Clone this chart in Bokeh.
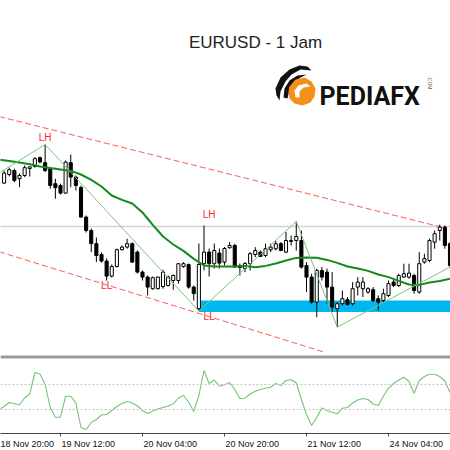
import numpy as np
from bokeh.plotting import figure
from bokeh.models import Range1d, FixedTicker, Label, Span, BoxAnnotation, PolyAnnotation, ColumnDataSource
from bokeh.core.properties import value
from bokeh.embed import file_html
from bokeh.resources import INLINE

# ---------------- data (EURUSD H1) ----------------
bars = list(range(-11, 77))  # bar index, 0 = 19 Nov 12:00
open_ = [1.16217, 1.16260, 1.16280, 1.16239, 1.16255, 1.16290, 1.16300, 1.16344, 1.16319, 1.16289,
         1.16214, 1.16205, 1.16167, 1.16319, 1.16247, 1.16195, 1.16047, 1.15980, 1.15914, 1.15860,
         1.15827, 1.15752, 1.15800, 1.15884, 1.15897, 1.15914, 1.15872, 1.15772, 1.15747, 1.15689,
         1.15689, 1.15700, 1.15705, 1.15730, 1.15730, 1.15800, 1.15810, 1.15697, 1.15589, 1.15814,
         1.15872, 1.15814, 1.15867, 1.15822, 1.15894, 1.15905, 1.15805, 1.15790, 1.15814, 1.15860,
         1.15872, 1.15855, 1.15884, 1.15889, 1.15914, 1.15872, 1.15925, 1.15930, 1.15930, 1.15805,
         1.15747, 1.15622, 1.15780, 1.15772, 1.15697, 1.15589, 1.15614, 1.15634, 1.15614, 1.15697,
         1.15689, 1.15672, 1.15684, 1.15639, 1.15630, 1.15655, 1.15722, 1.15705, 1.15747, 1.15747,
         1.15755, 1.15672, 1.15822, 1.15830, 1.15922, 1.15980, 1.15997, 1.15914]
high = [1.16280, 1.16294, 1.16289, 1.16264, 1.16305, 1.16300, 1.16347, 1.16350, 1.16410, 1.16297,
        1.16239, 1.16214, 1.16330, 1.16360, 1.16255, 1.16205, 1.16055, 1.15990, 1.15945, 1.15870,
        1.15840, 1.15810, 1.15890, 1.15905, 1.15939, 1.15920, 1.15880, 1.15780, 1.15755, 1.15750,
        1.15750, 1.15784, 1.15755, 1.15760, 1.15815, 1.15822, 1.15815, 1.15705, 1.15915, 1.16005,
        1.15890, 1.15915, 1.15890, 1.15897, 1.15922, 1.15914, 1.15815, 1.15822, 1.15872, 1.15897,
        1.15880, 1.15914, 1.15914, 1.15930, 1.15922, 1.15972, 1.15955, 1.16025, 1.15980, 1.15822,
        1.15764, 1.15789, 1.15797, 1.15789, 1.15772, 1.15622, 1.15680, 1.15647, 1.15722, 1.15747,
        1.15747, 1.15697, 1.15697, 1.15655, 1.15689, 1.15730, 1.15739, 1.15764, 1.15814, 1.15814,
        1.15764, 1.15872, 1.15864, 1.15939, 1.15980, 1.16009, 1.16005, 1.15922]
low = [1.16213, 1.16250, 1.16222, 1.16197, 1.16247, 1.16250, 1.16294, 1.16317, 1.16272, 1.16189,
       1.16139, 1.16160, 1.16164, 1.16197, 1.16180, 1.16045, 1.15970, 1.15872, 1.15822, 1.15820,
       1.15730, 1.15745, 1.15795, 1.15880, 1.15889, 1.15818, 1.15765, 1.15730, 1.15655, 1.15684,
       1.15685, 1.15689, 1.15700, 1.15684, 1.15714, 1.15794, 1.15689, 1.15630, 1.15577, 1.15780,
       1.15750, 1.15790, 1.15790, 1.15805, 1.15889, 1.15795, 1.15755, 1.15772, 1.15780, 1.15847,
       1.15847, 1.15847, 1.15872, 1.15880, 1.15877, 1.15868, 1.15905, 1.15880, 1.15790, 1.15672,
       1.15614, 1.15547, 1.15730, 1.15614, 1.15572, 1.15497, 1.15605, 1.15605, 1.15605, 1.15655,
       1.15647, 1.15664, 1.15622, 1.15580, 1.15622, 1.15647, 1.15697, 1.15697, 1.15743, 1.15739,
       1.15664, 1.15664, 1.15814, 1.15822, 1.15889, 1.15930, 1.15889, 1.15795]
close = [1.16267, 1.16284, 1.16230, 1.16255, 1.16294, 1.16298, 1.16339, 1.16322, 1.16280, 1.16205,
         1.16194, 1.16167, 1.16322, 1.16247, 1.16205, 1.16047, 1.15980, 1.15914, 1.15855, 1.15827,
         1.15752, 1.15800, 1.15884, 1.15897, 1.15914, 1.15822, 1.15772, 1.15747, 1.15697, 1.15744,
         1.15747, 1.15772, 1.15747, 1.15755, 1.15814, 1.15814, 1.15697, 1.15664, 1.15810, 1.15872,
         1.15814, 1.15880, 1.15817, 1.15890, 1.15905, 1.15797, 1.15795, 1.15815, 1.15864, 1.15880,
         1.15850, 1.15889, 1.15897, 1.15914, 1.15880, 1.15930, 1.15930, 1.15950, 1.15797, 1.15747,
         1.15622, 1.15780, 1.15747, 1.15697, 1.15597, 1.15614, 1.15639, 1.15610, 1.15689, 1.15722,
         1.15722, 1.15689, 1.15630, 1.15622, 1.15664, 1.15714, 1.15705, 1.15755, 1.15764, 1.15767,
         1.15680, 1.15814, 1.15839, 1.15930, 1.15964, 1.15997, 1.15905, 1.15805]

ma_bars = list(range(-12, 77, 2))
ma_values = [1.16334, 1.16328, 1.16320, 1.16311, 1.16300, 1.16292, 1.16285, 1.16278, 1.16260, 1.16233,
             1.16200, 1.16155, 1.16133, 1.16115, 1.16070, 1.16008, 1.15950, 1.15910, 1.15878, 1.15838,
             1.15805, 1.15800, 1.15800, 1.15800, 1.15803, 1.15796, 1.15803, 1.15815, 1.15830, 1.15843,
             1.15845, 1.15844, 1.15833, 1.15818, 1.15800, 1.15790, 1.15778, 1.15760, 1.15747, 1.15728,
             1.15710, 1.15708, 1.15720, 1.15728, 1.15739]

zigzag_bars = [-12, -3, 27, 46, 54, 76]
zigzag_prices = [1.16267, 1.16410, 1.15577, 1.16025, 1.15497, 1.15797]

upper_bars = [-12, 74.5]
upper_prices = [1.16550, 1.15996]
lower_bars = [-12, 51.7]
lower_prices = [1.15874, 1.15370]

level_price = 1.16000
zone_start, zone_end = 27, 80
zone_low, zone_high = 1.15572, 1.15630

mark_bars = [-3, 9, 29, 29]
mark_prices = [1.16445, 1.15703, 1.16059, 1.15552]
mark_text = ["LH", "LL", "LH", "LL"]

ind_bars = list(range(-12, 77))
ind_values = [30, 34.8, 41.2, 39.6, 37.2, 48.4, 54.8, 89.2, 86.8, 70.0,
              33.2, 17.7, 17.7, 51.3, 51.3, 40.4, 1.2, -2.0, 9.2, 14.0,
              21.2, 22.0, 28.4, 34.8, 39.6, 42.8, 40.4, 35.6, 28.4, 23.6,
              27.6, 30.8, 33.2, 35.6, 38.8, 48.4, 52.4, 42.0, 26.8, 52.4,
              92.4, 71.6, 77.2, 67.3, 69.5, 73.2, 62.0, 47.6, 48.1, 54.8,
              59.1, 62.0, 63.9, 65.7, 71.6, 68.4, 76.4, 77.5, 72.4, 46.0,
              22.0, 4.4, 17.2, 32.6, 28.4, 25.5, 23.1, 32.1, 33.2, 40.4,
              45.2, 47.6, 46.0, 38.8, 36.4, 51.6, 63.9, 71.6, 77.2, 81.7,
              74.8, 55.6, 76.4, 82.8, 86.3, 86.3, 82.8, 75.6, 57.2]
ind_levels = [70, 30]

tick_bars = [-16, 0, 16, 32, 48, 64]
tick_labels = ["18 Nov 20:00", "19 Nov 12:00", "20 Nov 04:00", "20 Nov 20:00", "21 Nov 12:00", "24 Nov 04:00"]

# ---------------- layout helpers (decoration positions only) ----------------
def bx(px):
    return (px - 60) / 5.125

def py(px):
    return 1.1713 - px / 20000.0

p = figure(frame_width=450, frame_height=433, output_backend="svg", toolbar_location=None,
           x_range=Range1d(bx(0), bx(450)), y_range=Range1d(py(433), py(0)),
           y_axis_location=None, min_border=0,
           background_fill_color="white", border_fill_color="white", outline_line_color=None)
p.xgrid.visible = False
p.ygrid.visible = False
p.extra_y_ranges = {"ind": Range1d(684.4 - 1.6 * 433, 684.4)}

# MT4 style time axis: tick mark at the bar, label written to the right of it
label_shift = 5.4  # bars, half a label width
ax = p.xaxis[0]
label_pos = [t + label_shift for t in tick_bars]
ax.ticker = FixedTicker(ticks=label_pos, minor_ticks=tick_bars)
ax.major_label_overrides = {pos: lab for pos, lab in zip(label_pos, tick_labels)}
ax.major_label_text_font = "Liberation Sans"
ax.major_label_text_font_size = "9px"
ax.major_label_text_color = "#111111"
ax.major_label_standoff = 2
ax.major_tick_in = 0
ax.major_tick_out = 0
ax.major_tick_line_color = None
ax.minor_tick_in = 0
ax.minor_tick_out = 3
ax.minor_tick_line_color = "#444444"
ax.axis_line_color = "#444444"

# level line and demand zone
p.add_layout(Span(location=level_price, dimension="width", line_color="#d4d4d4", line_width=1.5, level="underlay"))
p.quad(left=[zone_start], right=[zone_end], bottom=[zone_low], top=[zone_high],
       fill_color="#00b7f1", line_color=None)

# channel
p.line(upper_bars, upper_prices, line_color="#ff5a5a", line_dash="6 3", line_width=1)
p.line(lower_bars, lower_prices, line_color="#ff5a5a", line_dash="6 3", line_width=1)

# candles
o = np.array(open_); c = np.array(close)
src = ColumnDataSource(dict(
    x=bars, high=high, low=low,
    top=np.maximum(o, c), bottom=np.minimum(o, c),
    fill=["white" if cc >= oo else "black" for oo, cc in zip(open_, close)],
))
p.segment(x0="x", y0="high", x1="x", y1="low", source=src, line_color="black", line_width=1)
p.vbar(x="x", width=0.6, top="top", bottom="bottom", fill_color="fill", line_color="black",
       line_width=1, source=src)

# moving average and zigzag
p.line(ma_bars, ma_values, line_color="#15891a", line_width=2)
p.line(zigzag_bars, zigzag_prices, line_color="#7cc47c", line_width=1)

p.text(x=mark_bars, y=mark_prices, text=mark_text, text_color="#ff2a2a",
       text_font=value("Liberation Sans"), text_font_size="10px",
       text_align="center", text_baseline="middle")

# indicator sub-window
p.add_layout(BoxAnnotation(bottom=py(358), top=py(355), fill_color="#9c9c9c", fill_alpha=1,
                           line_alpha=0))
for lv in ind_levels:
    p.add_layout(Span(location=lv, dimension="width", y_range_name="ind", line_color="#c4c4c4",
                      line_dash="2 2", line_width=1))
p.line(ind_bars, ind_values, y_range_name="ind", line_color="#74c474", line_width=1.1)

# title
p.add_layout(Label(x=bx(255), y=py(42), text="EURUSD - 1 Jam", text_font="Liberation Sans",
                   text_font_size="17px", text_color="#222222", text_align="center",
                   text_baseline="middle"))

# logo
def poly(pts, color):
    p.add_layout(PolyAnnotation(xs=[bx(a) for a, b in pts], ys=[py(b) for a, b in pts],
                                fill_color=color, fill_alpha=1, line_alpha=0))

poly([(275, 88), (280, 77), (289, 69), (299, 65), (307, 66), (311, 70), (300, 69), (291, 74),
      (285, 81), (280, 91), (279, 100), (276, 95)], "#111111")
poly([(283, 97), (284, 88), (289, 80), (297, 75), (306, 74), (300, 77), (293, 82), (289, 89), (287, 98)],
     "#111111")
poly([(289, 86), (295, 79), (304, 77), (311, 81), (315, 88), (314, 96), (310, 102), (302, 105),
      (294, 103), (289, 98), (288, 91)], "#f39019")
poly([(295, 97), (294, 90), (298, 85), (306, 83), (310, 86), (303, 87), (299, 91), (299, 97)], "white")

p.add_layout(Label(x=bx(319), y=py(96), text="PEDIAFX", text_font="Roboto", text_font_style="bold",
                   text_font_size="25px", text_color="#111111", text_align="left",
                   text_baseline="alphabetic"))
p.add_layout(Label(x=bx(429), y=py(82.5), text=".COM", text_font="Liberation Sans",
                   text_font_size="5px", text_color="#555555", text_align="center",
                   text_baseline="middle", angle=-np.pi / 2))

open("out.html", "w").write(file_html(p, INLINE))
